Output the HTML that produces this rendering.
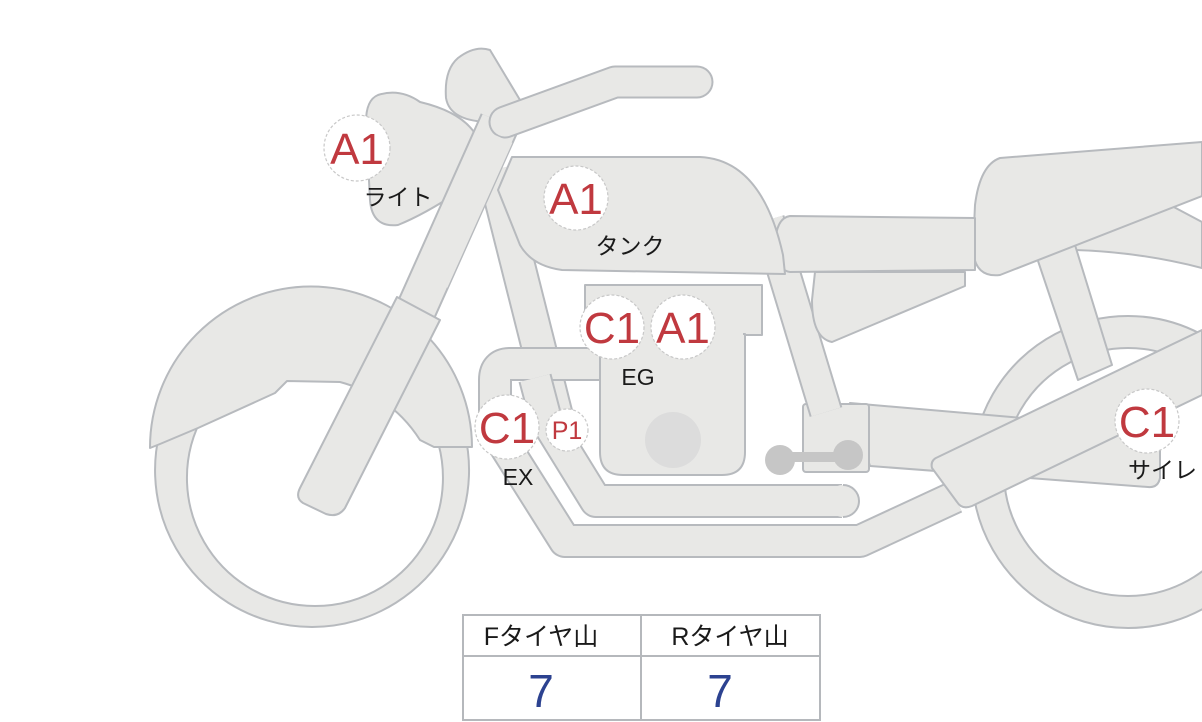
<!DOCTYPE html>
<html><head><meta charset="utf-8"><style>
html,body{margin:0;padding:0;background:#fff;}
svg{display:block;}
.f{fill:#e8e8e6;stroke:#b7babe;stroke-width:2;stroke-linejoin:round;}
.to{fill:none;stroke:#b7babe;stroke-linejoin:round;}
.ti{fill:none;stroke:#e8e8e6;stroke-linejoin:round;}
.lc{fill:#fff;stroke:#c8c8c8;stroke-width:1.2;stroke-dasharray:3 2;}
.lt{font-family:"Liberation Sans",sans-serif;fill:#c0393f;text-anchor:middle;}
.bt{font-family:"Liberation Sans","Noto Sans CJK JP",sans-serif;fill:#1a1a1a;font-size:23px;text-anchor:middle;}
</style></head><body>
<svg width="1202" height="722" viewBox="0 0 1202 722" xmlns="http://www.w3.org/2000/svg">
<path class="f" fill-rule="evenodd" d="M1128,316 a156,156 0 1,0 0.1,0 Z M1128,348 a124,124 0 1,1 -0.1,0 Z"/>
<path class="f" d="M1050,252 L1170,205 L1202,222 L1202,268 Q1140,252 1075,250 Z"/>
<path class="f" d="M1035,252 L1075,245 L1112,365 L1078,380 Z"/>
<path class="f" d="M1000,158 L1202,142 L1202,196 L1000,275 Q975,278 973,250 L975,205 Q980,165 1000,158 Z"/>
<path class="f" d="M850,403 L1160,430 L1160,478 Q1158,488 1148,487 L870,466 Z"/>
<rect class="f" x="803" y="404" width="66" height="68" rx="3"/>
<path class="f" fill-rule="evenodd" d="M312,313 a157,157 0 1,0 0.1,0 Z M315,350 a128,128 0 1,1 -0.1,0 Z"/>
<path class="f" d="M150,448 L160,444 L198,428 L275,393 L287,381 L340,382 Q392,396 420,440 L434,447 L472,447 A158,158 0 0,0 150,448 Z"/>
<path class="to" stroke-width="34" d="M768,220 L826,412"/>
<path class="ti" stroke-width="30" d="M768,220 L826,412"/>
<path class="f" d="M790,216 L975,218 L975,270 L790,272 Q776,270 775,245 Q776,218 790,216 Z"/>
<path class="f" d="M815,272 L965,272 L965,286 L832,342 Q812,338 812,300 Z"/>
<path class="to" stroke-width="36" d="M494,170 L562,440"/>
<path class="ti" stroke-width="32" d="M494,170 L562,440"/>
<path class="to" stroke-width="34" d="M640,364 L510,364 Q495,364 495,380 L495,430 L565,541 L860,541 L955,497"/>
<path class="ti" stroke-width="30" d="M640,364 L510,364 Q495,364 495,380 L495,430 L565,541 L860,541 L955,497"/>
<path class="to" stroke-width="34" d="M535,378 L546,420 L596,501 L842,501"/>
<path class="ti" stroke-width="30" d="M535,378 L546,420 L596,501 L842,501"/>
<circle cx="843" cy="501" r="16" fill="#e8e8e6"/>
<path d="M843,485 A16,16 0 0,1 843,517" fill="none" stroke="#b7babe" stroke-width="2"/>
<rect class="f" x="585" y="285" width="177" height="50"/>
<path class="f" d="M600,334 L745,334 L745,452 Q745,475 722,475 L623,475 Q600,475 600,452 Z"/>
<rect x="602" y="330" width="141" height="8" fill="#e8e8e6"/>
<circle cx="673" cy="440" r="28" fill="#dcdcdc"/>
<path class="f" d="M512,157 L700,157 Q762,160 783,255 L785,274 L562,270 Q532,266 520,245 L498,190 Z"/>
<path class="f" d="M938,457 L1202,330 L1202,395 L972,506 Q962,510 957,502 L932,468 Q930,460 938,457 Z"/>
<path class="f" d="M378,95 Q400,88 420,102 Q462,112 476,135 Q488,170 458,192 Q425,214 398,225 Q372,228 370,200 L366,122 Q366,100 378,95 Z"/>
<path class="f" d="M458,58 Q475,45 490,50 L520,100 Q522,116 492,122 Q450,122 446,98 Q444,70 458,58 Z"/>
<path class="to" stroke-width="42" d="M416,310 L500,122"/>
<path class="ti" stroke-width="38" d="M416,310 L500,122"/>
<path class="to" stroke-width="33" stroke-linecap="round" d="M505,122 L615,82 L697,82"/>
<path class="ti" stroke-width="29" stroke-linecap="round" d="M505,122 L615,82 L697,82"/>
<path class="ti" stroke-width="38" d="M430,280 L495,135"/>
<path class="f" d="M397,297 L440,320 L345,508 Q338,518 326,514 L303,503 Q295,498 300,488 Z"/>
<g fill="#c6c6c6">
<circle cx="780" cy="460" r="15"/><circle cx="848" cy="455" r="15"/>
<rect x="780" y="452" width="68" height="10"/>
</g>
<circle class="lc" cx="357" cy="148" r="33"/>
<text class="lt" x="357" y="164" font-size="44">A1</text>
<circle class="lc" cx="576" cy="198" r="32"/>
<text class="lt" x="576" y="214" font-size="44">A1</text>
<circle class="lc" cx="612" cy="327" r="32"/>
<text class="lt" x="612" y="343" font-size="44">C1</text>
<circle class="lc" cx="683" cy="327" r="32"/>
<text class="lt" x="683" y="343" font-size="44">A1</text>
<circle class="lc" cx="507" cy="427" r="32"/>
<text class="lt" x="507" y="443" font-size="44">C1</text>
<circle class="lc" cx="567" cy="430" r="21"/>
<text class="lt" x="567" y="439" font-size="25">P1</text>
<circle class="lc" cx="1147" cy="421" r="32"/>
<text class="lt" x="1147" y="437" font-size="44">C1</text>
<text class="bt" x="398" y="205">ライト</text>
<text class="bt" x="630" y="254">タンク</text>
<text class="bt" x="638" y="385">EG</text>
<text class="bt" x="518" y="485">EX</text>
<text class="bt" x="1128" y="478" style="text-anchor:start">サイレ</text>
<rect x="463" y="615" width="357" height="105" fill="#fff" stroke="#b5b8bc" stroke-width="2"/>
<line x1="463" y1="656" x2="820" y2="656" stroke="#b5b8bc" stroke-width="2"/>
<line x1="641" y1="615" x2="641" y2="720" stroke="#b5b8bc" stroke-width="2"/>
<text class="bt" x="541" y="645" style="font-size:25px">Fタイヤ山</text>
<text class="bt" x="730" y="645" style="font-size:25px">Rタイヤ山</text>
<text x="541" y="707" font-family="Liberation Sans,sans-serif" font-size="46" fill="#2c4290" text-anchor="middle">7</text>
<text x="720" y="707" font-family="Liberation Sans,sans-serif" font-size="46" fill="#2c4290" text-anchor="middle">7</text>
</svg>
</body></html>
